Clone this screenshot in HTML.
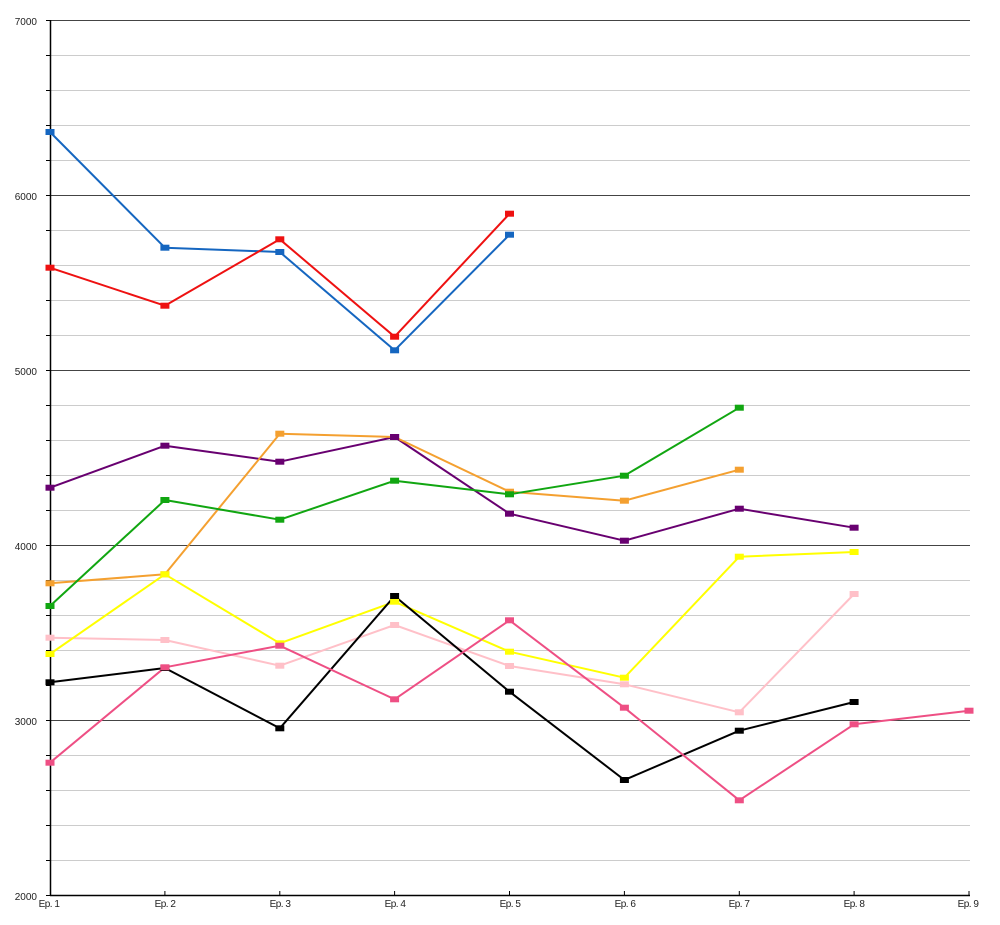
<!DOCTYPE html>
<html><head><meta charset="utf-8"><style>
html,body{margin:0;padding:0;background:#fff;}
svg{display:block;}
text{font-family:"Liberation Sans",Arial,sans-serif;font-size:10px;fill:#222;}
</style></head><body>
<svg width="1000" height="925" viewBox="0 0 1000 925" xmlns="http://www.w3.org/2000/svg">
<rect width="1000" height="925" fill="#fff"/>
<g stroke="#cccccc" stroke-width="1">
<line x1="50" x2="970" y1="55.5" y2="55.5"/><line x1="50" x2="970" y1="90.5" y2="90.5"/><line x1="50" x2="970" y1="125.5" y2="125.5"/><line x1="50" x2="970" y1="160.5" y2="160.5"/>
<line x1="50" x2="970" y1="230.5" y2="230.5"/><line x1="50" x2="970" y1="265.5" y2="265.5"/><line x1="50" x2="970" y1="300.5" y2="300.5"/><line x1="50" x2="970" y1="335.5" y2="335.5"/>
<line x1="50" x2="970" y1="405.5" y2="405.5"/><line x1="50" x2="970" y1="440.5" y2="440.5"/><line x1="50" x2="970" y1="475.5" y2="475.5"/><line x1="50" x2="970" y1="510.5" y2="510.5"/>
<line x1="50" x2="970" y1="580.5" y2="580.5"/><line x1="50" x2="970" y1="615.5" y2="615.5"/><line x1="50" x2="970" y1="650.5" y2="650.5"/><line x1="50" x2="970" y1="685.5" y2="685.5"/>
<line x1="50" x2="970" y1="755.5" y2="755.5"/><line x1="50" x2="970" y1="790.5" y2="790.5"/><line x1="50" x2="970" y1="825.5" y2="825.5"/><line x1="50" x2="970" y1="860.5" y2="860.5"/>
</g>
<g stroke="#444" stroke-width="1">
<line x1="50" x2="970" y1="20.5" y2="20.5"/><line x1="50" x2="970" y1="195.5" y2="195.5"/><line x1="50" x2="970" y1="370.5" y2="370.5"/><line x1="50" x2="970" y1="545.5" y2="545.5"/><line x1="50" x2="970" y1="720.5" y2="720.5"/>
</g>
<!-- y ticks -->
<g stroke="#000" stroke-width="1">
<line x1="46" x2="50" y1="20.5" y2="20.5"/><line x1="46" x2="50" y1="55.5" y2="55.5"/><line x1="46" x2="50" y1="90.5" y2="90.5"/><line x1="46" x2="50" y1="125.5" y2="125.5"/><line x1="46" x2="50" y1="160.5" y2="160.5"/>
<line x1="46" x2="50" y1="195.5" y2="195.5"/><line x1="46" x2="50" y1="230.5" y2="230.5"/><line x1="46" x2="50" y1="265.5" y2="265.5"/><line x1="46" x2="50" y1="300.5" y2="300.5"/><line x1="46" x2="50" y1="335.5" y2="335.5"/>
<line x1="46" x2="50" y1="370.5" y2="370.5"/><line x1="46" x2="50" y1="405.5" y2="405.5"/><line x1="46" x2="50" y1="440.5" y2="440.5"/><line x1="46" x2="50" y1="475.5" y2="475.5"/><line x1="46" x2="50" y1="510.5" y2="510.5"/>
<line x1="46" x2="50" y1="545.5" y2="545.5"/><line x1="46" x2="50" y1="580.5" y2="580.5"/><line x1="46" x2="50" y1="615.5" y2="615.5"/><line x1="46" x2="50" y1="650.5" y2="650.5"/><line x1="46" x2="50" y1="685.5" y2="685.5"/>
<line x1="46" x2="50" y1="720.5" y2="720.5"/><line x1="46" x2="50" y1="755.5" y2="755.5"/><line x1="46" x2="50" y1="790.5" y2="790.5"/><line x1="46" x2="50" y1="825.5" y2="825.5"/><line x1="46" x2="50" y1="860.5" y2="860.5"/>
<line x1="46" x2="50" y1="895.5" y2="895.5"/>
</g>
<!-- x ticks -->
<g stroke="#000" stroke-width="1">
<line x1="164.9" x2="164.9" y1="891" y2="895"/><line x1="279.8" x2="279.8" y1="891" y2="895"/><line x1="394.6" x2="394.6" y1="891" y2="895"/><line x1="509.5" x2="509.5" y1="891" y2="895"/>
<line x1="624.4" x2="624.4" y1="891" y2="895"/><line x1="739.3" x2="739.3" y1="891" y2="895"/><line x1="854.1" x2="854.1" y1="891" y2="895"/><line x1="969" x2="969" y1="891" y2="895"/>
</g>
<!-- axes -->
<line x1="50.5" x2="50.5" y1="20" y2="896" stroke="#000" stroke-width="1.5"/>
<line x1="50" x2="970" y1="895.5" y2="895.5" stroke="#000" stroke-width="1.5"/>
<!-- y labels -->
<g text-anchor="end">
<text x="37" y="25">7000</text><text x="37" y="200">6000</text><text x="37" y="375">5000</text><text x="37" y="550">4000</text><text x="37" y="725">3000</text><text x="37" y="900">2000</text>
</g>
<!-- x labels -->
<g text-anchor="middle" letter-spacing="-0.5">
<text x="49" y="907">Ep. 1</text><text x="165" y="907">Ep. 2</text><text x="280" y="907">Ep. 3</text><text x="395" y="907">Ep. 4</text><text x="510" y="907">Ep. 5</text><text x="625" y="907">Ep. 6</text><text x="739" y="907">Ep. 7</text><text x="854" y="907">Ep. 8</text><text x="968" y="907">Ep. 9</text>
</g>
<defs>
<marker id="m" markerWidth="1" markerHeight="1"/>
</defs>
<g fill="none" stroke-width="2" stroke-linejoin="round">
<polyline stroke="#1566c0" points="50,132 164.9,247.7 279.8,252 394.6,350.3 509.5,234.7"/>
<polyline stroke="#ee1111" points="50,267.7 164.9,305.7 279.8,239.3 394.6,336.7 509.5,213.7"/>
<polyline stroke="#680070" points="50,487.7 164.9,445.7 279.8,461.7 394.6,437 509.5,513.7 624.4,540.7 739.3,508.7 854.1,527.7"/>
<polyline stroke="#f4a030" points="50,583.3 164.9,574.3 279.8,433.7 394.6,437 509.5,491.7 624.4,500.7 739.3,469.7"/>
<polyline stroke="#11a611" points="50,606 164.9,500 279.8,519.7 394.6,480.7 509.5,494.3 624.4,475.7 739.3,407.7"/>
<polyline stroke="#ffc0c8" points="50,637.7 164.9,640 279.8,665.7 394.6,625 509.5,666 624.4,684.3 739.3,712.3 854.1,594"/>
<polyline stroke="#ffff00" points="50,654 164.9,574.3 279.8,643.3 394.6,601.7 509.5,651.7 624.4,677.7 739.3,556.7 854.1,552"/>
<polyline stroke="#000000" points="50,682.3 164.9,668 279.8,728.3 394.6,596 509.5,691.7 624.4,780 739.3,730.7 854.1,702"/>
<polyline stroke="#ee4f84" points="50,762.7 164.9,667.3 279.8,645.7 394.6,699.3 509.5,620.3 624.4,707.7 739.3,800.3 854.1,724.3 969,710.7"/>
</g>
<!-- markers -->
<g fill="#1566c0"><rect x="45.5" y="129" width="9" height="6"/><rect x="160.4" y="244.7" width="9" height="6"/><rect x="275.3" y="249" width="9" height="6"/><rect x="390.1" y="347.3" width="9" height="6"/><rect x="505" y="231.7" width="9" height="6"/></g>
<g fill="#ee1111"><rect x="45.5" y="264.7" width="9" height="6"/><rect x="160.4" y="302.7" width="9" height="6"/><rect x="275.3" y="236.3" width="9" height="6"/><rect x="390.1" y="333.7" width="9" height="6"/><rect x="505" y="210.7" width="9" height="6"/></g>
<g fill="#680070"><rect x="45.5" y="484.7" width="9" height="6"/><rect x="160.4" y="442.7" width="9" height="6"/><rect x="275.3" y="458.7" width="9" height="6"/><rect x="390.1" y="434" width="9" height="6"/><rect x="505" y="510.7" width="9" height="6"/><rect x="619.9" y="537.7" width="9" height="6"/><rect x="734.8" y="505.7" width="9" height="6"/><rect x="849.6" y="524.7" width="9" height="6"/></g>
<g fill="#f4a030"><rect x="45.5" y="580.3" width="9" height="6"/><rect x="160.4" y="571.3" width="9" height="6"/><rect x="275.3" y="430.7" width="9" height="6"/><rect x="505" y="488.7" width="9" height="6"/><rect x="619.9" y="497.7" width="9" height="6"/><rect x="734.8" y="466.7" width="9" height="6"/></g>
<g fill="#11a611"><rect x="45.5" y="603" width="9" height="6"/><rect x="160.4" y="497" width="9" height="6"/><rect x="275.3" y="516.7" width="9" height="6"/><rect x="390.1" y="477.7" width="9" height="6"/><rect x="505" y="491.3" width="9" height="6"/><rect x="619.9" y="472.7" width="9" height="6"/><rect x="734.8" y="404.7" width="9" height="6"/></g>
<g fill="#ffc0c8"><rect x="45.5" y="634.7" width="9" height="6"/><rect x="160.4" y="637" width="9" height="6"/><rect x="275.3" y="662.7" width="9" height="6"/><rect x="390.1" y="622" width="9" height="6"/><rect x="505" y="663" width="9" height="6"/><rect x="619.9" y="681.3" width="9" height="6"/><rect x="734.8" y="709.3" width="9" height="6"/><rect x="849.6" y="591" width="9" height="6"/></g>
<g fill="#ffff00"><rect x="45.5" y="651" width="9" height="6"/><rect x="160.4" y="571.3" width="9" height="6"/><rect x="275.3" y="640.3" width="9" height="6"/><rect x="390.1" y="598.7" width="9" height="6"/><rect x="505" y="648.7" width="9" height="6"/><rect x="619.9" y="674.7" width="9" height="6"/><rect x="734.8" y="553.7" width="9" height="6"/><rect x="849.6" y="549" width="9" height="6"/></g>
<g fill="#000000"><rect x="45.5" y="679.3" width="9" height="6"/><rect x="160.4" y="665" width="9" height="6"/><rect x="275.3" y="725.3" width="9" height="6"/><rect x="390.1" y="593" width="9" height="6"/><rect x="505" y="688.7" width="9" height="6"/><rect x="619.9" y="777" width="9" height="6"/><rect x="734.8" y="727.7" width="9" height="6"/><rect x="849.6" y="699" width="9" height="6"/></g>
<g fill="#ee4f84"><rect x="45.5" y="759.7" width="9" height="6"/><rect x="160.4" y="664.3" width="9" height="6"/><rect x="275.3" y="642.7" width="9" height="6"/><rect x="390.1" y="696.3" width="9" height="6"/><rect x="505" y="617.3" width="9" height="6"/><rect x="619.9" y="704.7" width="9" height="6"/><rect x="734.8" y="797.3" width="9" height="6"/><rect x="849.6" y="721.3" width="9" height="6"/><rect x="964.5" y="707.7" width="9" height="6"/></g>
<rect x="390.1" y="434" width="9" height="6" fill="#680070"/>
</svg>
</body></html>
